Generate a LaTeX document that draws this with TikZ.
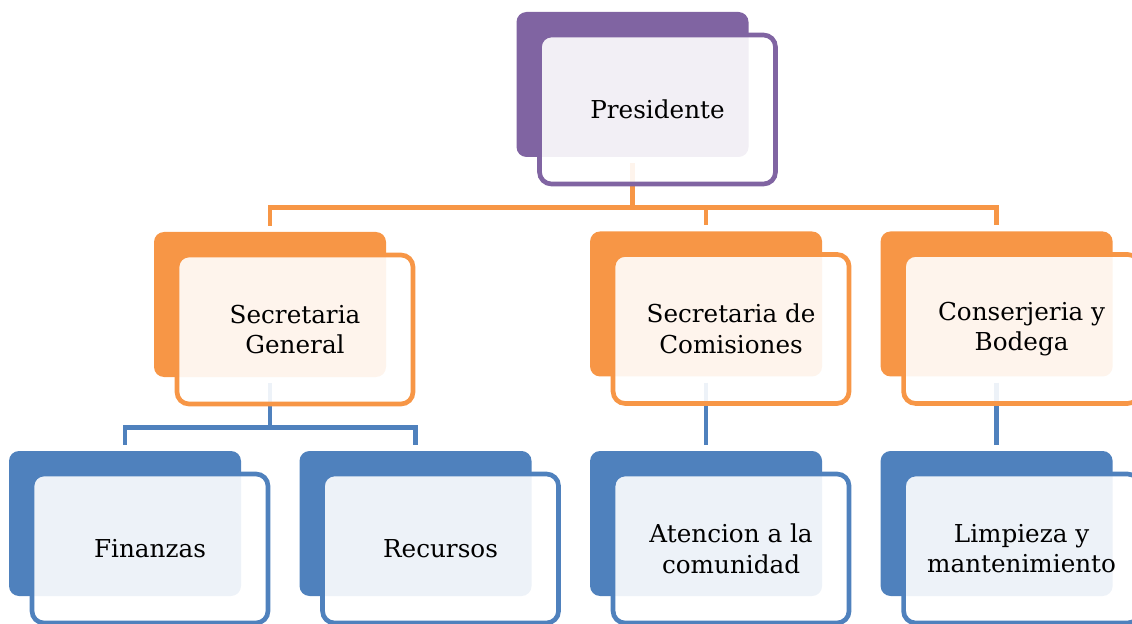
\documentclass[tikz,border=0pt]{standalone}
\usepackage{fontspec}
\setmainfont{DejaVu Serif}
\usetikzlibrary{positioning}
\definecolor{purpleOrg}{HTML}{8064A2}
\definecolor{orangeOrg}{HTML}{F79646}
\definecolor{blueOrg}{HTML}{4F81BD}

\begin{document}
\begin{tikzpicture}[x=0.75pt,y=-0.75pt,node distance=43.5pt]
  \tikzstyle{back box}=[rectangle,rounded corners=7.5pt,inner sep=0pt,
                        minimum width=174pt,minimum height=108.75pt]
  \tikzstyle{front box}=[rectangle,rounded corners=9pt,line width=3.5pt,
                         fill=white,fill opacity=0.9,text opacity=1,
                         minimum width=177pt,minimum height=111.75pt,
                         align=center,font=\fontsize{18.5}{23}\selectfont]
  \tikzstyle{link}=[line width=3.5pt,shorten <=4.5pt,shorten >=4.5pt]

  \useasboundingbox (0,0) rectangle (1132,624);

  % back boxes
  \node[back box,fill=purpleOrg] (pres) at (632.5,84.5) {};
  \node[back box,fill=orangeOrg] (sg)   at (270,304.5)  {};
  \node[back box,fill=blueOrg]   (fin)  at (125,523.5)  {};
  \node[back box,fill=blueOrg]   (rec)  [right=of fin]  {};
  \node[back box,fill=blueOrg]   (ate)  [right=of rec]  {};
  \node[back box,fill=blueOrg]   (lim)  [right=of ate]  {};
  \node[back box,fill=orangeOrg] (sc)   [above=55.5pt of ate] {};
  \node[back box,fill=orangeOrg] (cb)   [above=55.5pt of lim] {};

  % links
  \foreach \n in {sg,sc,cb}
    \draw[link,draw=orangeOrg] (pres.south) -- ++(0,50) -| (\n.north);
  \foreach \n in {fin,rec}
    \draw[link,draw=blueOrg] (sg.south) -- ++(0,50) -| (\n.north);
  \draw[link,draw=blueOrg] (sc.south) -- (ate.north);
  \draw[link,draw=blueOrg] (cb.south) -- (lim.north);

  % front boxes
  \node[front box,draw=purpleOrg] (presF) at ([shift={(25,25)}]pres) {Presidente};
  \node[front box,draw=orangeOrg] (sgF)   at ([shift={(25,25)}]sg)   {Secretaria\\General};
  \node[front box,draw=orangeOrg] (scF)   at ([shift={(25,25)}]sc)   {Secretaria de\\Comisiones};
  \node[front box,draw=orangeOrg] (cbF)   at ([shift={(25,25)}]cb)   {Conserjeria y\\Bodega};
  \node[front box,draw=blueOrg]   (finF)  at ([shift={(25,25)}]fin)  {Finanzas};
  \node[front box,draw=blueOrg]   (recF)  at ([shift={(25,25)}]rec)  {Recursos};
  \node[front box,draw=blueOrg]   (ateF)  at ([shift={(25,25)}]ate)  {Atencion a la\\comunidad};
  \node[front box,draw=blueOrg]   (limF)  at ([shift={(25,25)}]lim)  {Limpieza y\\mantenimiento};
\end{tikzpicture}
\end{document}
